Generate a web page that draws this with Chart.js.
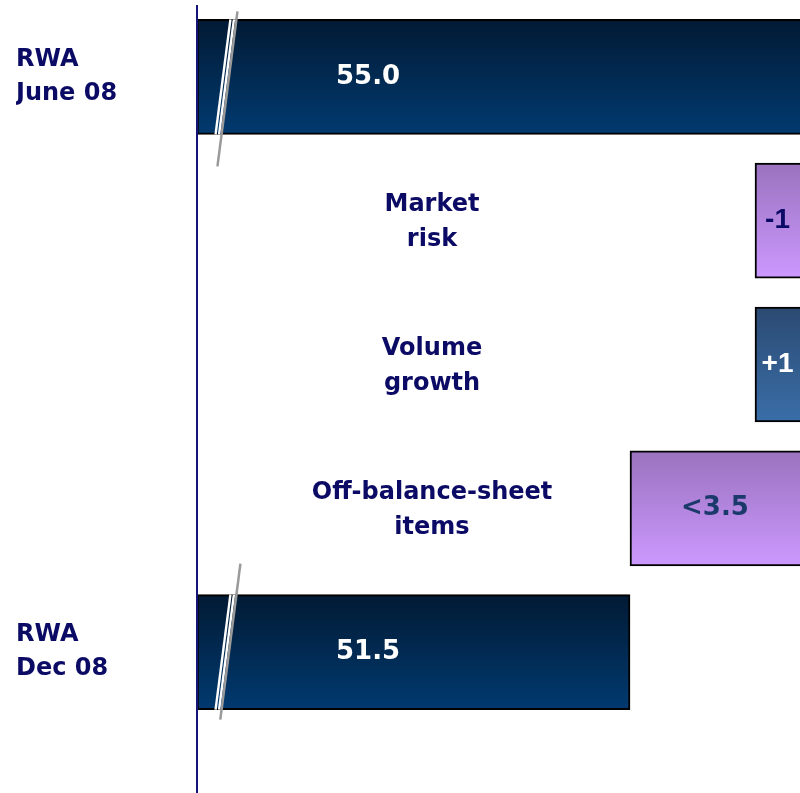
<!DOCTYPE html>
<html>
<head>
<meta charset="utf-8">
<script src="https://cdn.jsdelivr.net/npm/chart.js@4"></script>
<style>
  html, body { margin: 0; padding: 0; background: #fff; }
  canvas { display: block; }
</style>
</head>
<body>
<canvas id="rwaChart" width="800" height="793"></canvas>
<script>
// Datos del puente de RWA (miles de millones)
const categories = [['RWA', 'June 08'], ['Market', 'risk'], ['Volume', 'growth'], ['Off-balance-sheet', 'items'], ['RWA', 'Dec 08']];
const totals = [55.0, null, null, null, 51.5];
const changes = [null, -1, 1, -3.5, null];
const valueLabels = ['55.0', '-1', '+1', '<3.5', '51.5'];

// Eje cortado: la escala empieza en el corte
const axisStart = 42.84;
const axisEnd = 54.9;

// Construir las barras flotantes del puente
let running = 0;
const ranges = categories.map((c, i) => {
    if (totals[i] !== null) {
        running = totals[i];
        return [axisStart, totals[i]];
    }
    const from = running;
    running += changes[i];
    return [Math.min(from, running), Math.max(from, running)];
});

const barKinds = ['total', 'down', 'up', 'down', 'total'];
const gradients = {
    total: ['#021a34', '#013a70'],
    down: ['#9a72be', '#cc99ff'],
    up: ['#2b4a72', '#3a6ea8']
};
const labelStyles = {
    total: { color: '#ffffff', font: 'bold 26px "DejaVu Sans"' },
    down: { color: '#0b0b66', font: 'bold 28px "Liberation Sans"' },
    up: { color: '#ffffff', font: 'bold 28px "Liberation Sans"' }
};
const navy = '#0b0b66';
const BAR_H = 115;

function barFill(ctx) {
    const chart = ctx.chart;
    const y = chart.scales.y;
    if (!y || !chart.chartArea) return gradients.total[1];
    const mid = y.getPixelForValue(ctx.dataIndex);
    const g = chart.ctx.createLinearGradient(0, mid - BAR_H / 2, 0, mid + BAR_H / 2);
    const stops = gradients[barKinds[ctx.dataIndex]];
    g.addColorStop(0, stops[0]);
    g.addColorStop(1, stops[1]);
    return g;
}

// Textos, marcas de corte y línea del eje
const bridgeDecor = {
    id: 'bridgeDecor',
    afterDatasetsDraw(chart) {
        const ctx = chart.ctx;
        const area = chart.chartArea;
        const xs = chart.scales.x;
        const ys = chart.scales.y;
        ctx.save();

        // Marcas de corte sobre las barras totales
        const breakExt = { 0: [8, 32], 4: [31, 10] };
        Object.keys(breakExt).forEach(k => {
            const i = Number(k);
            const mid = ys.getPixelForValue(i);
            const top = mid - BAR_H / 2;
            const bot = mid + BAR_H / 2;
            const cx = area.left + 32;
            const slope = -0.129;
            const xAt = (yy, off) => cx + off + slope * (yy - mid);
            ctx.lineCap = 'butt';
            ctx.strokeStyle = '#ffffff';
            ctx.lineWidth = 2.4;
            [-6, -2.5].forEach(off => {
                ctx.beginPath();
                ctx.moveTo(xAt(top, off), top);
                ctx.lineTo(xAt(bot, off), bot);
                ctx.stroke();
            });
            ctx.strokeStyle = '#9a9a9a';
            ctx.lineWidth = 2.5;
            const t = top - breakExt[k][0];
            const b = bot + breakExt[k][1];
            ctx.beginPath();
            ctx.moveTo(xAt(t, 0), t);
            ctx.lineTo(xAt(b, 0), b);
            ctx.stroke();
        });

        // Línea del eje vertical
        ctx.strokeStyle = '#14147a';
        ctx.lineWidth = 2;
        ctx.beginPath();
        ctx.moveTo(area.left, area.top);
        ctx.lineTo(area.left, chart.height);
        ctx.stroke();

        // Valores dentro de las barras
        ctx.textBaseline = 'middle';
        valueLabels.forEach((txt, i) => {
            const kind = barKinds[i];
            const mid = ys.getPixelForValue(i);
            let style = labelStyles[kind];
            if (txt.startsWith('<')) style = { color: '#1b3a6b', font: 'bold 26px "DejaVu Sans"' };
            ctx.fillStyle = style.color;
            ctx.font = style.font;
            if (kind === 'total') {
                ctx.textAlign = 'left';
                ctx.fillText(txt, area.left + 139, mid);
            } else {
                const left = xs.getPixelForValue(ranges[i][0]);
                ctx.textAlign = 'center';
                ctx.fillText(txt, (left + area.right) / 2, mid);
            }
        });

        // Nombres de los movimientos en el centro
        ctx.fillStyle = navy;
        ctx.font = 'bold 24px "DejaVu Sans"';
        ctx.textAlign = 'center';
        categories.forEach((lines, i) => {
            if (barKinds[i] === 'total') return;
            const mid = ys.getPixelForValue(i);
            ctx.fillText(lines[0], area.left + 235, mid - 16);
            ctx.fillText(lines[1], area.left + 235, mid + 19);
        });
        ctx.restore();
    }
};

const chartCtx = document.getElementById('rwaChart').getContext('2d');
new Chart(chartCtx, {
    type: 'bar',
    data: {
        labels: categories,
        datasets: [{
            data: ranges,
            backgroundColor: barFill,
            borderColor: '#000000',
            borderWidth: 2,
            borderSkipped: false,
            barThickness: BAR_H
        }]
    },
    options: {
        indexAxis: 'y',
        responsive: false,
        animation: false,
        layout: { padding: { left: 16, top: 5, bottom: 69, right: 0 } },
        scales: {
            x: { type: 'linear', min: axisStart, max: axisEnd, display: false },
            y: {
                grid: { display: false },
                border: { display: false },
                afterFit(scale) {
                    scale.width = 181;
                    // las etiquetas de dos líneas no deben empujar el área
                    scale.paddingTop = 0;
                    scale.paddingBottom = 0;
                },
                ticks: {
                    crossAlign: 'far',
                    color: navy,
                    font: { family: 'DejaVu Sans', weight: 'bold', size: 24, lineHeight: 1.42 },
                    callback(value, index) {
                        return barKinds[index] === 'total' ? this.getLabelForValue(value) : '';
                    }
                }
            }
        },
        plugins: {
            legend: { display: false },
            tooltip: { enabled: false }
        }
    },
    plugins: [bridgeDecor]
});
</script>
</body>
</html>
